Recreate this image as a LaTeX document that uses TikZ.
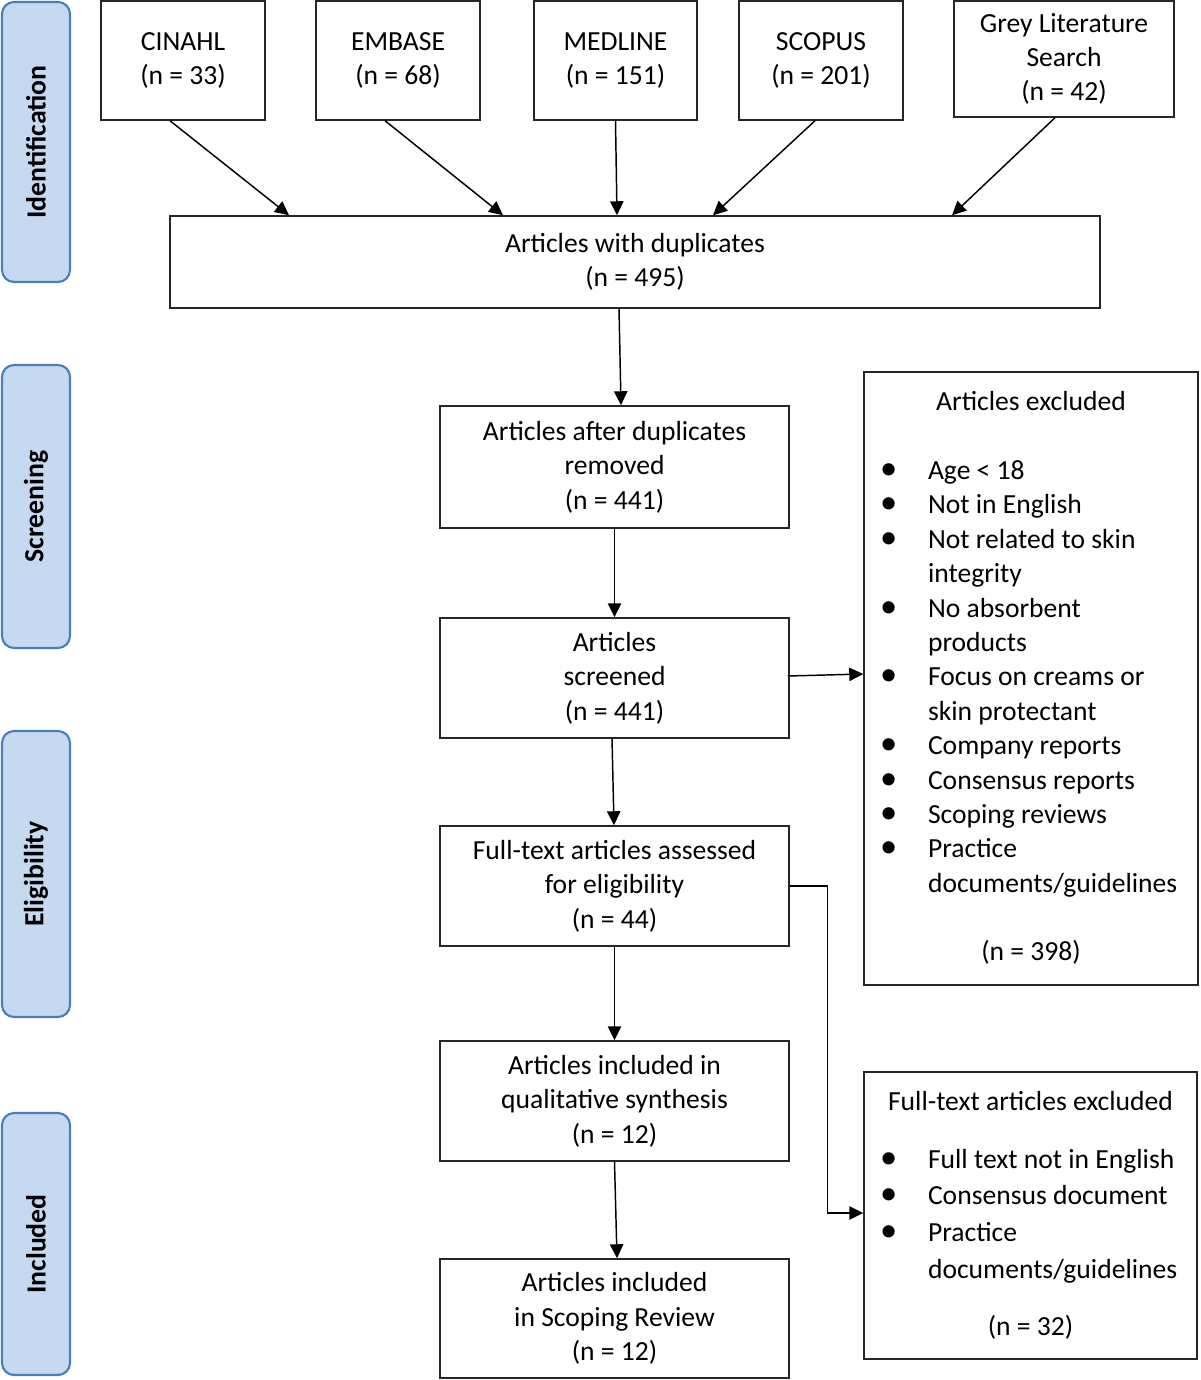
\documentclass[tikz,border=0pt]{standalone}
\usepackage{fontspec}
\setmainfont{Carlito}
\usepackage{graphicx}
\usepackage{array}
\usetikzlibrary{arrows.meta,calc}
\definecolor{sidefill}{HTML}{C5D9F1}
\definecolor{sidedraw}{HTML}{4A7EBB}
\definecolor{boxline}{HTML}{262626}
\newcommand\bodyfont{\fontsize{20.7}{25.8}\selectfont}
\newcommand\bul{\hspace*{-4.5pt}\scalebox{1.25}{•}}
\newcolumntype{L}[1]{>{\raggedright\arraybackslash}p{#1}}
\begin{document}
\begin{tikzpicture}[x=0.75pt,y=-0.75pt,
  box/.style 2 args={draw=boxline, line width=1.1pt, minimum width={#1*0.75pt}, minimum height={#2*0.75pt}, inner sep=0pt, align=center, font=\bodyfont},
  side/.style={draw=sidedraw, fill=sidefill, line width=1.6pt, rounded corners=9pt, minimum width=51pt, minimum height={#1*0.75pt}, inner sep=0pt, font=\bfseries\fontsize{20.8}{24}\selectfont},
  arr/.style={-{Triangle[length=10.5pt,width=10pt]}, line width=1.1pt, black},
]
\useasboundingbox (0,0) rectangle (1200,1380);

% stage labels
\node[side=280] (sid) at (36,142) {\rotatebox{90}{Identification}};
\node[side=283] (sscr) at (36,506.5) {\rotatebox{90}{Screening}};
\node[side=286] (selg) at (36,874) {\rotatebox{90}{Eligibility}};
\node[side=262] (sinc) at (36,1244) {\rotatebox{90}{Included}};

% sources
\node[box={164}{119}] (cinahl) at (183,60.5) {CINAHL\\(n = 33)};
\node[box={164}{119}] (embase) at (398,60.5) {EMBASE\\(n = 68)};
\node[box={163}{119}] (medline) at (615.5,60.5) {MEDLINE\\(n = 151)};
\node[box={164}{119}] (scopus) at (821,60.5) {SCOPUS\\(n = 201)};
\node[box={220}{116}] (grey) at (1064,59) {Grey Literature\\Search\\(n = 42)};

\node[box={930}{92}] (dup) at (635,262) {Articles with duplicates\\(n = 495)};

\node[box={349}{122}] (after) at (614.5,467) {Articles after duplicates\\removed\\(n = 441)};
\node[box={349}{120}] (screened) at (614.5,678) {Articles\\screened\\(n = 441)};
\node[box={349}{120}] (full) at (614.5,886) {Full-text articles assessed\\for eligibility\\(n = 44)};
\node[box={349}{120}] (qual) at (614.5,1101) {Articles included in\\qualitative synthesis\\(n = 12)};
\node[box={349}{119}] (scope) at (614.5,1318.5) {Articles included\\in Scoping Review\\(n = 12)};

\node[box={334}{613}] (exc) at (1031,678.5) {%
\begin{tabular}{@{}p{31.5pt}@{}L{186pt}@{}}
\multicolumn{2}{@{}c@{}}{Articles excluded}\\[25.8pt]
\bul & Age < 18\\
\bul & Not in English\\
\bul & Not related to skin\\
 & integrity\\
\bul & No absorbent\\
 & products\\
\bul & Focus on creams or\\
 & skin protectant\\
\bul & Company reports\\
\bul & Consensus reports\\
\bul & Scoping reviews\\
\bul & Practice\\
 & \mbox{documents/guidelines}\\[25pt]
\multicolumn{2}{@{}c@{}}{(n = 398)}
\end{tabular}};

\node[box={333}{287}] (fexc) at (1030.5,1215.5) {%
\renewcommand\arraystretch{1.066}%
\begin{tabular}{@{}p{31.5pt}@{}L{185.25pt}@{}}
\multicolumn{2}{@{}c@{}}{Full-text articles excluded}\\[16pt]
\bul & \mbox{Full text not in English}\\
\bul & Consensus document\\
\bul & Practice\\
 & \mbox{documents/guidelines}\\[15.5pt]
\multicolumn{2}{@{}c@{}}{(n = 32)}
\end{tabular}};

% connectors
\draw[arr] ($(cinahl.south)+(-13,0)$) -- ($(dup.north)+(-346,0)$);
\draw[arr] ($(embase.south)+(-13,0)$) -- ($(dup.north)+(-132,0)$);
\draw[arr] (medline.south) -- ($(dup.north)+(-18,0)$);
\draw[arr] ($(scopus.south)+(-6,0)$) -- ($(dup.north)+(78,0)$);
\draw[arr] ($(grey.south)+(-9,0)$) -- ($(dup.north)+(317,0)$);
\draw[arr] ($(dup.south)+(-16,0)$) -- ($(after.north)+(6.5,0)$);
\draw[arr] (after.south) -- (screened.north);
\draw[arr] ($(screened.east)+(-2,-2)$) -- ($(exc.west)+(0,-4.5)$);
\draw[arr] ($(screened.south)+(-2.5,0)$) -- ($(full.north)+(-0.5,0)$);
\draw[arr] (full.east) -- ++(38,0) |- ($(fexc.west)+(0,-2.5)$);
\draw[arr] (full.south) -- (qual.north);
\draw[arr] (qual.south) -- ($(scope.north)+(2.5,0)$);
\end{tikzpicture}
\end{document}
